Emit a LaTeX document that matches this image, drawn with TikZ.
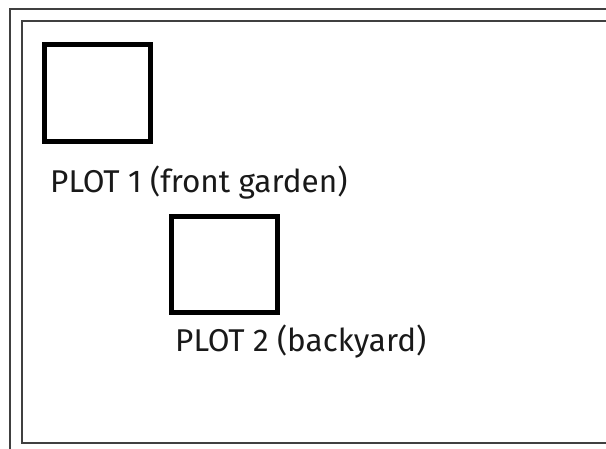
\documentclass[tikz,border=0pt]{standalone}
\usepackage{fontspec}
\setmainfont{Fira Sans}
\begin{document}
\begin{tikzpicture}[x=1pt,y=-1pt,
  frame/.style={draw=black!75,line width=1.4pt},
  plotbox/.style={draw=black,line width=4.2pt,fill=white,inner sep=0pt},
  plotlabel/.style={anchor=base west,inner sep=0pt,font=\fontsize{31.5}{36}\selectfont,text=black!90}]
  \useasboundingbox (0,0) rectangle (606,448);
  \clip (0,0) rectangle (606,448);
  % the two frame outlines run off the right and lower edge
  \draw[frame] (10,9) rectangle (640,480);
  \draw[frame] (22,21) rectangle (630,443);
  % garden plots
  \node[plotbox,minimum width=106pt,minimum height=97pt] (p1) at (97.5,93) {};
  \node[plotbox,minimum width=106pt,minimum height=96pt] (p2) at (224.5,264.5) {};
  \node[plotlabel] (l1) at (50,192) {PLOT 1 (front garden)};
  \node[plotlabel] (l2) at (175,351) {PLOT 2 (backyard)};
\end{tikzpicture}
\end{document}
